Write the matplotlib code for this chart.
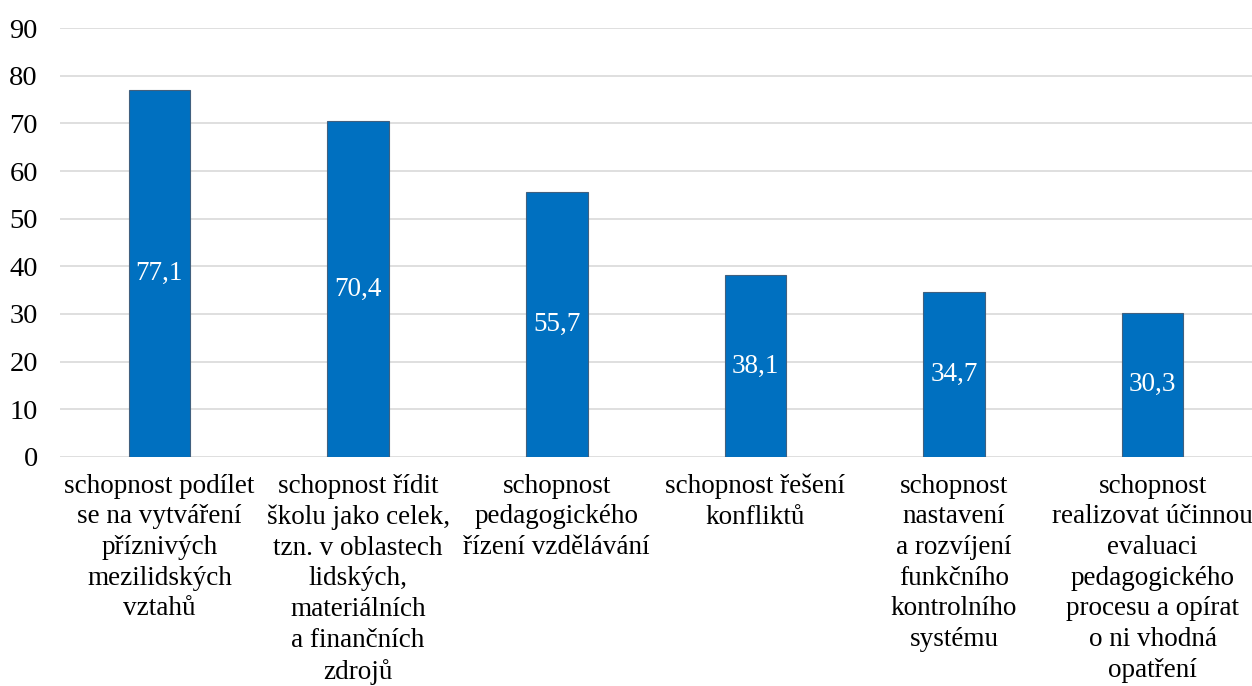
import matplotlib.pyplot as plt
import numpy as np

plt.rcParams['font.family'] = ['Liberation Serif', 'DejaVu Serif']

# Kategorie a hodnoty (%)
kategorie = [
    'schopnost podílet\nse na vytváření\npříznivých\nmezilidských\nvztahů',
    'schopnost řídit\nškolu jako celek,\ntzn. v oblastech\nlidských,\nmateriálních\na finančních\nzdrojů',
    'schopnost\npedagogického\nřízení vzdělávání',
    'schopnost řešení\nkonfliktů',
    'schopnost\nnastavení\na rozvíjení\nfunkčního\nkontrolního\nsystému',
    'schopnost\nrealizovat účinnou\nevaluaci\npedagogického\nprocesu a opírat\no ni vhodná\nopatření',
]
hodnoty = [77.1, 70.4, 55.7, 38.1, 34.7, 30.3]
y_ticks = [0, 10, 20, 30, 40, 50, 60, 70, 80, 90]

fig = plt.figure(figsize=(12.52, 6.86), dpi=100)
ax = fig.add_axes([0.048, 0.334, 0.952, 0.625])

x = np.arange(len(hodnoty))
bars = ax.bar(x, hodnoty, width=0.31, color='#0070C0', edgecolor='#41607F',
              linewidth=0.8, zorder=3)

# popisky hodnot uprostřed sloupců
for b, v in zip(bars, hodnoty):
    ax.text(b.get_x() + b.get_width() / 2, v / 2, f'{v:.1f}'.replace('.', ','),
            ha='center', va='center', color='white', fontsize=19.5, zorder=4)

ax.set_xlim(-0.5, len(hodnoty) - 0.5)
ax.set_ylim(0, 90)
ax.set_yticks(y_ticks)
ax.set_xticks(x)
ax.set_xticklabels(kategorie, fontsize=19.5, linespacing=1.3, va='top')
ax.tick_params(axis='y', labelsize=20.5, length=0, pad=16)
ax.tick_params(axis='x', length=0, pad=12)
ax.grid(axis='y', color='#D9D9D9', linewidth=1.2, zorder=0)
for s in ax.spines.values():
    s.set_visible(False)

plt.savefig('out.png', dpi=100)
